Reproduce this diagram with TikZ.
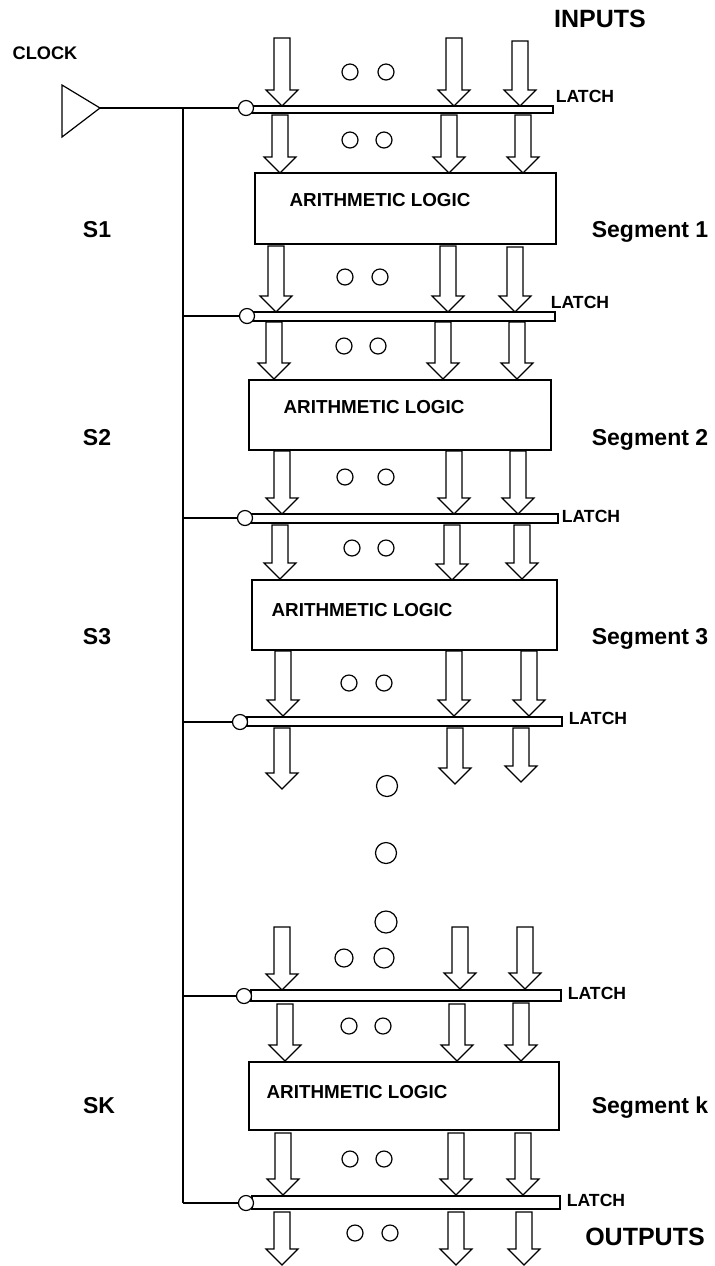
\documentclass[tikz,border=0pt]{standalone}
\usepackage{fontspec}
\setmainfont{Liberation Sans}
\begin{document}
\begin{tikzpicture}[x=0.5pt,y=-0.5pt]
\tikzset{
  ln/.style={line width=0.6pt},
  blk/.style={draw, line width=0.6pt, fill=white, line join=miter},
  lbar/.style={draw, rectangle, line width=0.6pt, inner sep=0pt, fill=white},
  alu/.style={draw, rectangle, line width=0.6pt, inner sep=0pt},
  bub/.style={draw, circle, line width=0.6pt, fill=white, inner sep=0pt, minimum size=7.5pt},
  dotc/.style={draw, circle, line width=0.6pt, inner sep=0pt, minimum size=8pt},
  bigdot/.style={dotc, minimum size=10.5pt},
  alut/.style={font=\bfseries\fontsize{9.4}{11}\selectfont, inner sep=0pt, text height=6.7pt, text depth=0pt},
  latcht/.style={font=\bfseries\fontsize{8.8}{10}\selectfont, inner sep=0pt, text height=6.3pt, text depth=0pt},
  clockt/.style={font=\bfseries\fontsize{9.1}{10}\selectfont, inner sep=0pt, text height=6.5pt, text depth=0pt},
  seg/.style={font=\bfseries\fontsize{11.5}{13}\selectfont, inner sep=0pt, text height=8.2pt, text depth=0pt},
  io/.style={font=\bfseries\fontsize{12.5}{14}\selectfont, inner sep=0pt, text height=8.9pt, text depth=0pt},
}
\newcommand{\barr}[3]{\draw[blk] ({#1-8},#2) -- ({#1+8},#2) -- ({#1+8},{#3-16}) -- ({#1+16},{#3-16}) -- (#1,#3) -- ({#1-16},{#3-16}) -- ({#1-8},{#3-16}) -- cycle;}
\newcommand{\rectnode}[6]{%
  \pgfmathsetmacro\rcx{(#3+#5)/2}\pgfmathsetmacro\rcy{(#4+#6)/2}%
  \pgfmathsetmacro\rcw{(#5-#3)*0.5}\pgfmathsetmacro\rch{(#6-#4)*0.5}%
  \node[#1, minimum width=\rcw pt, minimum height=\rch pt] (#2) at (\rcx,\rcy) {};}

\path[use as bounding box] (0,0) rectangle (715,1266);

% clock
\draw[ln] (62,85) -- (100,108) -- (62,137) -- cycle;
\coordinate (clk) at (100,108);
\coordinate (vtop) at (183,108);
\coordinate (vbot) at (183,1203);
\node[clockt] (clocklbl) at (45,53) {CLOCK};
\node[io] (inputs) at (600,19) {INPUTS};
\node[io] (outputs) at (645,1237) {OUTPUTS};

% top input arrows
\barr{282}{38}{106} \barr{454}{38}{106} \barr{520}{41}{106}
\node[dotc] (d0a) at (350,72) {}; \node[dotc] (d0b) at (386,72) {};

% latch 1
\rectnode{lbar}{l1}{252}{106}{553}{113}
\node[bub] (b1) at (246,108) {};
\node[latcht] (lt1) at (585,96) {LATCH};

% segment 1
\barr{280}{115}{173} \barr{449}{115}{173} \barr{523}{115}{173}
\node[dotc] (d1a) at (350,140) {}; \node[dotc] (d1b) at (384,140) {};
\rectnode{alu}{a1}{255}{173}{556}{244}
\node[alut] (t1) at (380,200) {ARITHMETIC  LOGIC};
\barr{276}{246}{312} \barr{448}{246}{312} \barr{515}{247}{312}
\node[dotc] (d1c) at (345,277) {}; \node[dotc] (d1d) at (380,277) {};
\node[seg] (s1) at (97,229) {S1};
\node[seg] (g1) at (650,229) {Segment  1};

% latch 2
\rectnode{lbar}{l2}{253}{312}{555}{321}
\node[bub] (b2) at (247,316) {};
\node[latcht] (lt2) at (580,302) {LATCH};

% segment 2
\barr{274}{322}{379} \barr{443}{322}{379} \barr{517}{322}{379}
\node[dotc] (d2a) at (344,346) {}; \node[dotc] (d2b) at (378,346) {};
\rectnode{alu}{a2}{249}{380}{551}{450}
\node[alut] (t2) at (374,407) {ARITHMETIC  LOGIC};
\barr{282}{451}{514} \barr{454}{451}{514} \barr{518}{451}{514}
\node[dotc] (d2c) at (345,477) {}; \node[dotc] (d2d) at (386,477) {};
\node[seg] (s2) at (97,437) {S2};
\node[seg] (g2) at (650,437) {Segment  2};

% latch 3
\rectnode{lbar}{l3}{251}{514}{558}{523}
\node[bub] (b3) at (245,518) {};
\node[latcht] (lt3) at (591,516) {LATCH};

% segment 3
\barr{280}{525}{579} \barr{452}{525}{580} \barr{522}{525}{579}
\node[dotc] (d3a) at (352,548) {}; \node[dotc] (d3b) at (386,548) {};
\rectnode{alu}{a3}{252}{580}{557}{650}
\node[alut] (t3) at (362,610) {ARITHMETIC  LOGIC};
\barr{283}{651}{716} \barr{454}{651}{716} \barr{529}{651}{716}
\node[dotc] (d3c) at (349,683) {}; \node[dotc] (d3d) at (384,683) {};
\node[seg] (s3) at (97,636) {S3};
\node[seg] (g3) at (650,636) {Segment  3};

% latch 4
\rectnode{lbar}{l4}{247}{717}{562}{726}
\node[bub] (b4) at (240,722) {};
\node[latcht] (lt4) at (598,718) {LATCH};
\barr{282}{728}{789} \barr{455}{728}{784} \barr{521}{728}{782}

% vertical ellipsis
\node[bigdot] (e1) at (387,786) {};
\node[bigdot] (e2) at (386,853) {};
\node[bigdot, minimum size=11pt] (e3) at (386,922) {};

% latch 5
\barr{282}{927}{990} \barr{460}{927}{989} \barr{525}{927}{989}
\node[dotc, minimum size=9pt] (d4a) at (344,958) {}; \node[dotc, minimum size=10pt] (d4b) at (384,958) {};
\rectnode{lbar}{l5}{251}{990}{561}{1001}
\node[bub] (b5) at (244,996) {};
\node[latcht] (lt5) at (597,993) {LATCH};

% segment k
\barr{285}{1004}{1061} \barr{457}{1004}{1061} \barr{521}{1003}{1061}
\node[dotc] (dka) at (349,1026) {}; \node[dotc] (dkb) at (383,1026) {};
\rectnode{alu}{ak}{249}{1062}{559}{1130}
\node[alut] (tk) at (357,1092) {ARITHMETIC  LOGIC};
\barr{283}{1133}{1195} \barr{456}{1133}{1195} \barr{523}{1133}{1195}
\node[dotc] (dkc) at (350,1159) {}; \node[dotc] (dkd) at (384,1159) {};
\node[seg] (sk) at (99,1105) {SK};
\node[seg] (gk) at (650,1105) {Segment  k};

% latch 6
\rectnode{lbar}{l6}{252}{1196}{560}{1209}
\node[bub] (b6) at (246,1203) {};
\node[latcht] (lt6) at (596,1200) {LATCH};
\barr{282}{1212}{1265} \barr{456}{1212}{1265} \barr{524}{1212}{1265}
\node[dotc] (doa) at (355,1233) {}; \node[dotc] (dob) at (390,1233) {};

% clock wiring
\draw[ln] (clk) -- (b1.west);
\draw[ln] (vtop) -- (vbot);
\draw[ln] (b2.west -| vtop) -- (b2.west);
\draw[ln] (b3.west -| vtop) -- (b3.west);
\draw[ln] (b4.west -| vtop) -- (b4.west);
\draw[ln] (b5.west -| vtop) -- (b5.west);
\draw[ln] (vbot) -- (b6.west);
\end{tikzpicture}
\end{document}
